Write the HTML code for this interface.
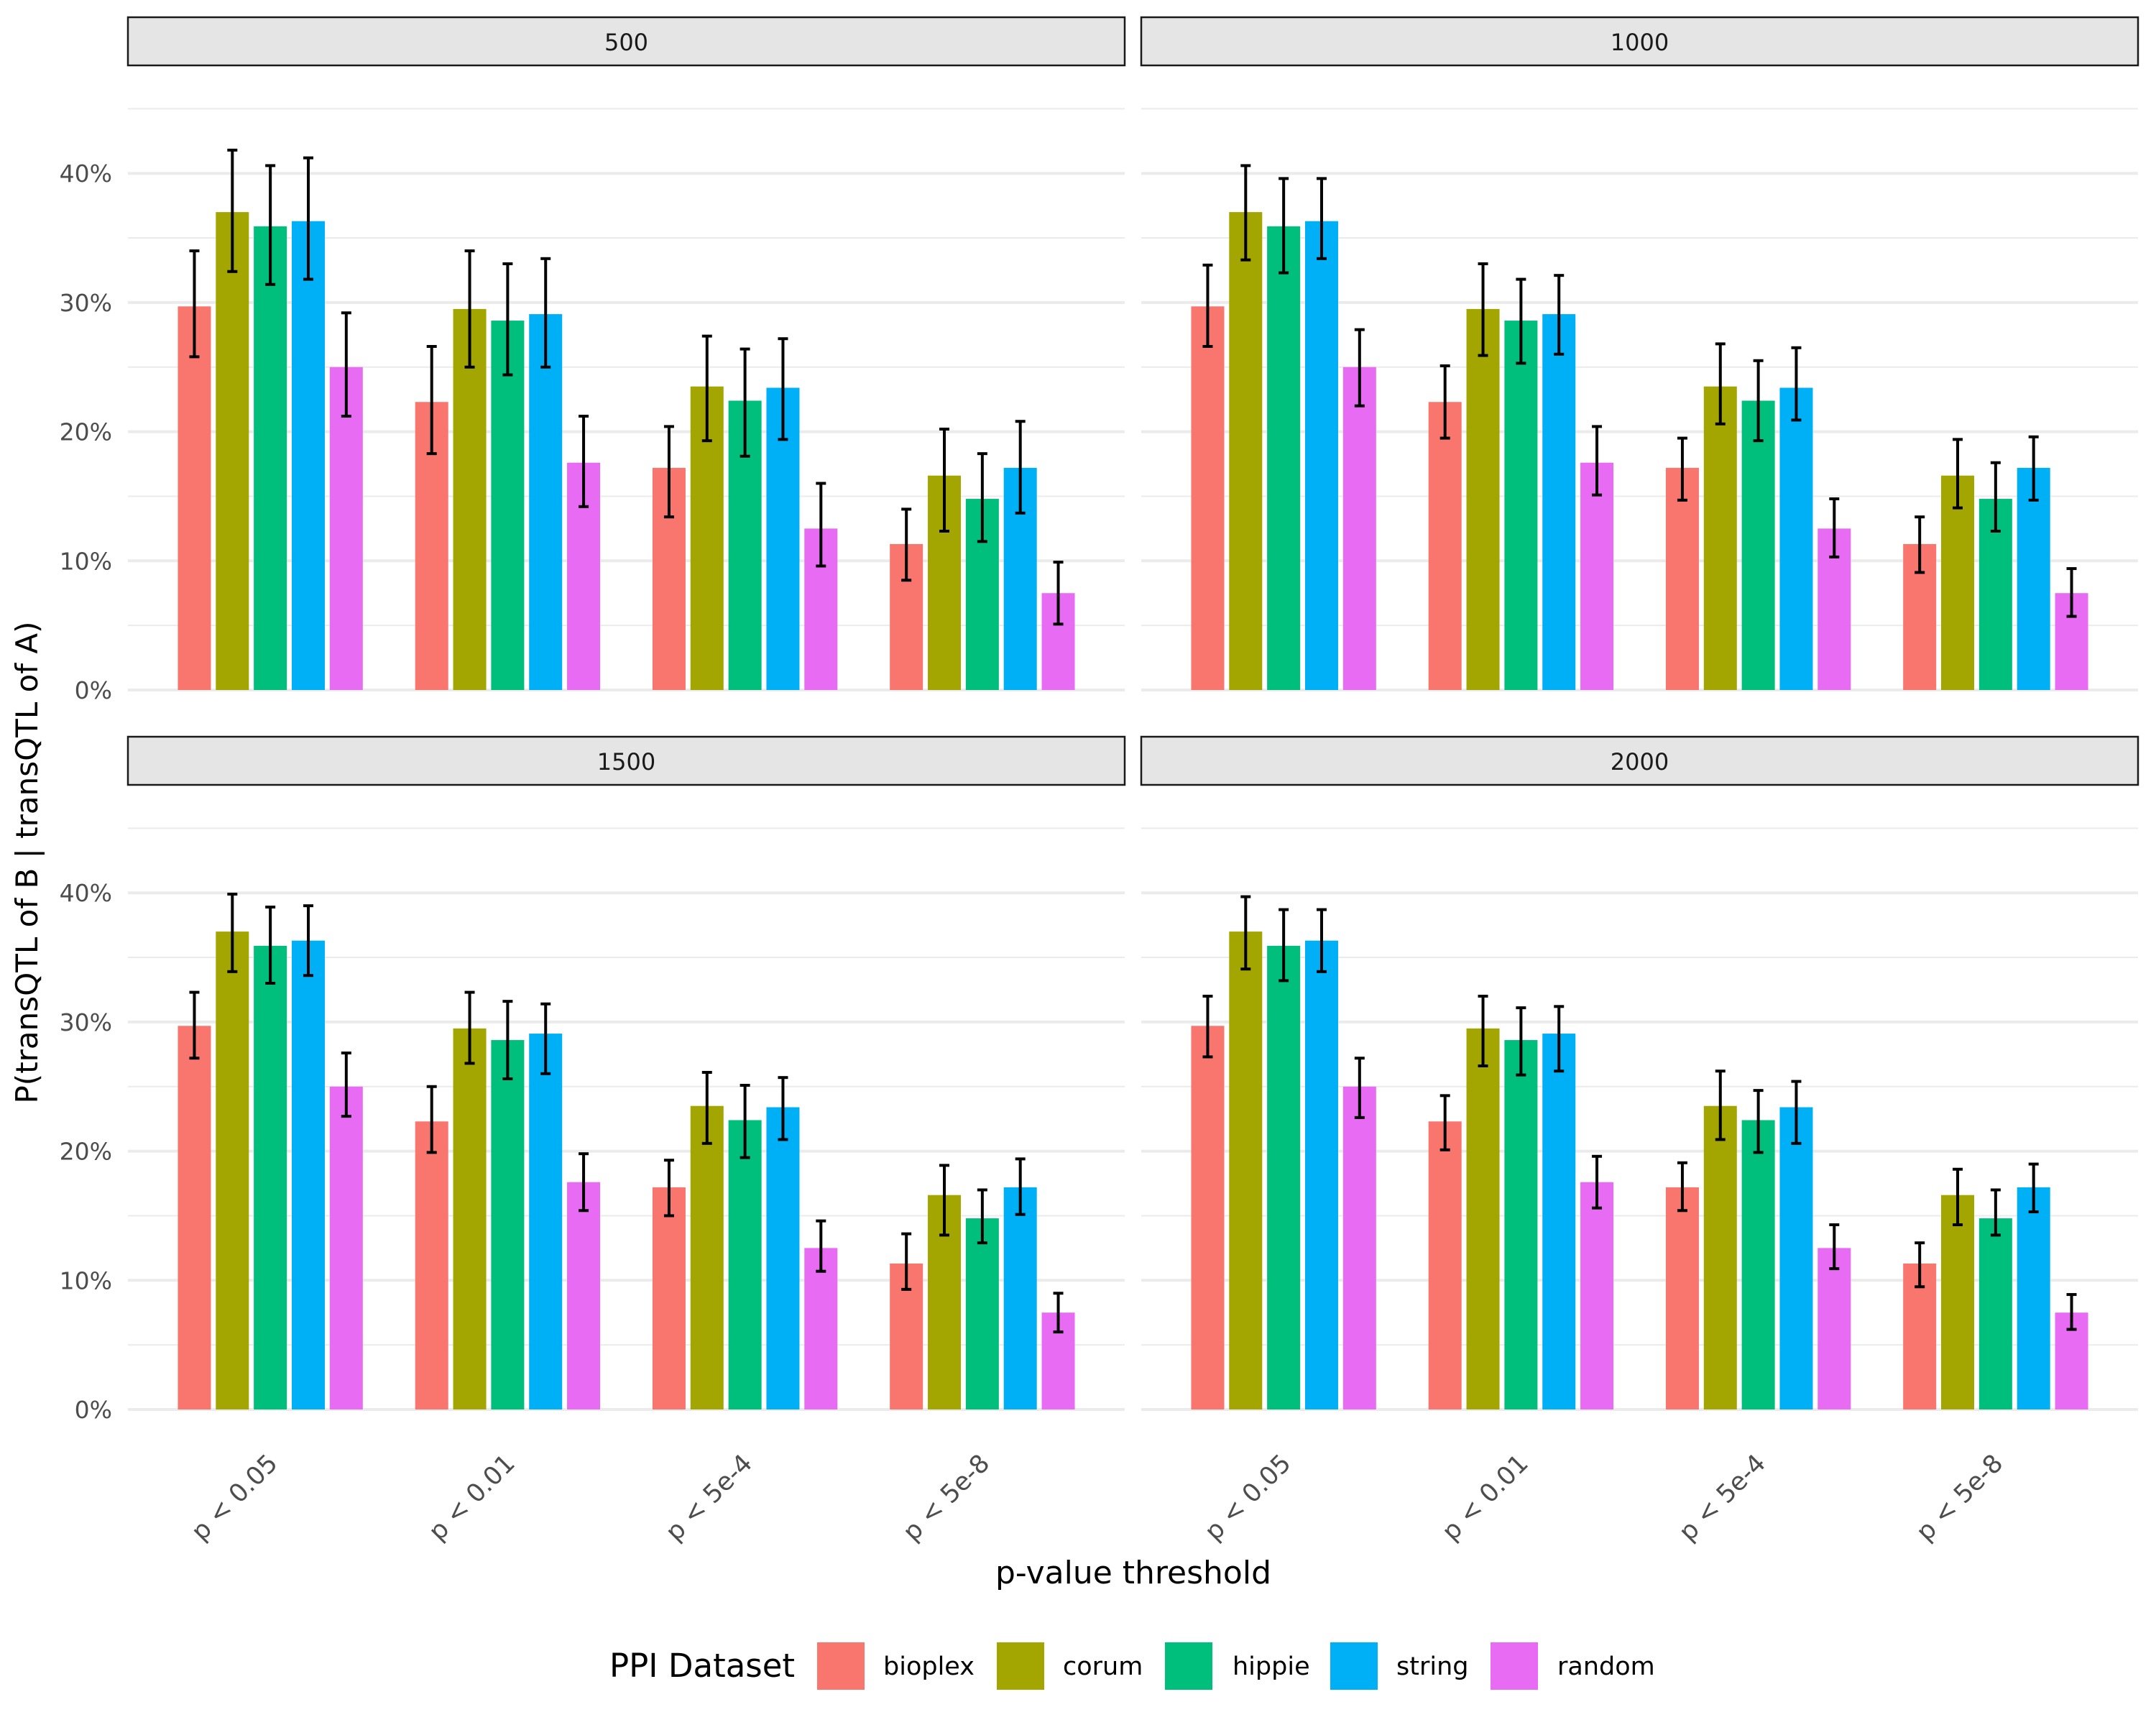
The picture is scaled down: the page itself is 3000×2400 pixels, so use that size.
<!DOCTYPE html>
<html><head><meta charset="utf-8"><style>
html,body{margin:0;padding:0;background:#fff;}
svg{display:block;font-family:"DejaVu Sans","Liberation Sans",sans-serif;}
</style></head><body>
<svg id="chart" width="3000" height="2400" viewBox="0 0 3000 2400" xmlns="http://www.w3.org/2000/svg">
<text x="0" y="0" transform="translate(52,1200) rotate(-90)" text-anchor="middle" font-size="42" fill="#000">P(transQTL of B | transQTL of A)</text>
<text x="1577" y="2203" text-anchor="middle" font-size="44" fill="#000">p-value threshold</text>
<g id="legend">
<text x="848" y="2333" font-size="45" fill="#000">PPI Dataset</text>
</g>
</svg>
<script>
const categories = ["p < 0.05", "p < 0.01", "p < 5e-4", "p < 5e-8"];
const datasets = ["bioplex", "corum", "hippie", "string", "random"];
const colors = ["#F8766D", "#A3A500", "#00BF7D", "#00B0F6", "#E76BF3"];
const panels = ["500", "1000", "1500", "2000"];
const yTicks = [0, 10, 20, 30, 40];
const yTickLabels = ["0%", "10%", "20%", "30%", "40%"];
// values (%) per dataset across categories
const bioplexVals = [29.7, 22.3, 17.2, 11.3];
const corumVals = [37.0, 29.5, 23.5, 16.6];
const hippieVals = [35.9, 28.6, 22.4, 14.8];
const stringVals = [36.3, 29.1, 23.4, 17.2];
const randomVals = [25.0, 17.6, 12.5, 7.5];
// error bars [upper, lower] per panel -> dataset -> category
const err500 = [
 [[34.0,25.8],[26.6,18.3],[20.4,13.4],[14.0,8.5]],
 [[41.8,32.4],[34.0,25.0],[27.4,19.3],[20.2,12.3]],
 [[40.6,31.4],[33.0,24.4],[26.4,18.1],[18.3,11.5]],
 [[41.2,31.8],[33.4,25.0],[27.2,19.4],[20.8,13.7]],
 [[29.2,21.2],[21.2,14.2],[16.0,9.6],[9.9,5.1]]];
const err1000 = [
 [[32.9,26.6],[25.1,19.5],[19.5,14.7],[13.4,9.1]],
 [[40.6,33.3],[33.0,25.9],[26.8,20.6],[19.4,14.1]],
 [[39.6,32.3],[31.8,25.3],[25.5,19.3],[17.6,12.3]],
 [[39.6,33.4],[32.1,26.0],[26.5,20.9],[19.6,14.7]],
 [[27.9,22.0],[20.4,15.1],[14.8,10.3],[9.4,5.7]]];
const err1500 = [
 [[32.3,27.2],[25.0,19.9],[19.3,15.0],[13.6,9.3]],
 [[39.9,33.9],[32.3,26.8],[26.1,20.6],[18.9,13.5]],
 [[38.9,33.0],[31.6,25.6],[25.1,19.5],[17.0,12.9]],
 [[39.0,33.6],[31.4,26.0],[25.7,20.9],[19.4,15.1]],
 [[27.6,22.7],[19.8,15.4],[14.6,10.7],[9.0,6.0]]];
const err2000 = [
 [[32.0,27.3],[24.3,20.1],[19.1,15.4],[12.9,9.5]],
 [[39.7,34.1],[32.0,26.6],[26.2,20.9],[18.6,14.3]],
 [[38.7,33.2],[31.1,25.9],[24.7,19.9],[17.0,13.5]],
 [[38.7,33.9],[31.2,26.2],[25.4,20.6],[19.0,15.3]],
 [[27.2,22.6],[19.6,15.6],[14.3,10.9],[8.9,6.2]]];

const values = [bioplexVals, corumVals, hippieVals, stringVals, randomVals];
const errs = [err500, err1000, err1500, err2000];
const NS = "http://www.w3.org/2000/svg";
const svg = document.getElementById("chart");
function mk(tag, attrs, parent) {
  const e = document.createElementNS(NS, tag);
  for (const k in attrs) e.setAttribute(k, attrs[k]);
  (parent || svg).appendChild(e);
  return e;
}
const panelX = [178, 1588, 178, 1588];
const panelW = 1387;
const panelOffY = [0, 0, 1001, 1001];
const perPct = 17.97;
panels.forEach((pname, pi) => {
  const x0 = panelX[pi], oy = panelOffY[pi];
  const y0 = 960 + oy;
  const yScale = v => y0 - v * perPct;
  const unit = panelW / 4.2;
  const xCenter = i => x0 + (0.6 + i) * unit;
  const g = mk("g", {});
  
  
  const strip = mk("rect", {x: x0, y: 24 + oy, width: panelW, height: 67, fill: "#e5e5e5", stroke: "#1a1a1a", "stroke-width": 2.5}, g);
  
  
  const st = mk("text", {x: x0 + panelW / 2, y: 70 + oy, "text-anchor": "middle", "font-size": 32, fill: "#1a1a1a"}, g);
  st.textContent = pname;
  
  
  [5, 15, 25, 35, 45].forEach(v => {
    const l = mk("line", {x1: x0, x2: x0 + panelW, y1: yScale(v), y2: yScale(v), stroke: "#ebebeb", "stroke-width": 2}, g);
    
    
  });
  yTicks.forEach((v, i) => {
    const l = mk("line", {x1: x0, x2: x0 + panelW, y1: yScale(v), y2: yScale(v), stroke: "#ebebeb", "stroke-width": 4}, g);
    
    
    if (pi % 2 === 0) {
      const t = mk("text", {x: 156, y: yScale(v) + 12, "text-anchor": "end", "font-size": 33, fill: "#4d4d4d"}, g);
      t.textContent = yTickLabels[i];
      
      
    }
  });
  const step = unit * 0.8 / 5, bw = 46;
  values.forEach((series, di) => {
    series.forEach((v, ci) => {
      const cx = xCenter(ci) + (di - 2) * step;
      const r = mk("rect", {x: cx - bw / 2, y: yScale(v), width: bw, height: v * perPct, fill: colors[di]}, g);
      
      
      const e = errs[pi][di][ci];
      const eg = mk("g", {stroke: "#000", "stroke-width": 4}, g);
      
      
      mk("line", {x1: cx, x2: cx, y1: yScale(e[0]), y2: yScale(e[1])}, eg);
      mk("line", {x1: cx - 7, x2: cx + 7, y1: yScale(e[0]), y2: yScale(e[0])}, eg);
      mk("line", {x1: cx - 7, x2: cx + 7, y1: yScale(e[1]), y2: yScale(e[1])}, eg);
    });
  });
  if (pi >= 2) {
    categories.forEach((c, ci) => {
      const ax = xCenter(ci) + 12, ay = 2038;
      const t = mk("text", {x: 0, y: 0, transform: "translate(" + ax + "," + ay + ") rotate(-45)", "text-anchor": "end", "font-size": 35, fill: "#4d4d4d"}, g);
      t.textContent = c;
      
      
    });
  }
});
const legend = document.getElementById("legend");
const keyX = [1137, 1387, 1621, 1851, 2074];
const labX = [1229, 1479, 1715, 1943, 2167];
datasets.forEach((d, i) => {
  const k = mk("rect", {x: keyX[i], y: 2285, width: 66, height: 66, fill: colors[i]}, legend);
  
  
  const t = mk("text", {x: labX[i], y: 2330, "font-size": 35, fill: "#000"}, legend);
  t.textContent = d;
  
  
});
</script>
</body></html>
